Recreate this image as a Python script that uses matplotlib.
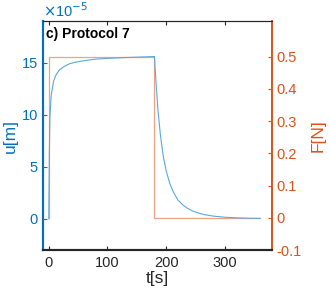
import numpy as np
import matplotlib.pyplot as plt
from matplotlib.ticker import FuncFormatter

plt.rcParams["font.family"] = ["Liberation Sans", "DejaVu Sans"]

# displacement u [m] vs time
t_u = [0, 1, 2, 4, 8, 12, 18, 25, 35, 45, 60, 80, 100, 130, 160, 180,
       181, 183, 186, 190, 195, 200, 206, 212, 220, 228, 235, 245, 255,
       265, 280, 300, 320, 340, 360]
u_vals = [0, 6.5, 9.8, 11.8, 13.2, 13.8, 14.3, 14.6, 14.9, 15.05, 15.2,
          15.35, 15.42, 15.5, 15.56, 15.6,
          14.6, 12.8, 10.4, 8.1, 6.0, 4.6, 3.4, 2.6, 1.8, 1.35, 1.05, 0.75,
          0.55, 0.4, 0.26, 0.15, 0.09, 0.06, 0.04]
u_vals = np.array(u_vals) * 1e-5

# force F [N] vs time
t_f = [0, 0, 180, 180, 360]
f_vals = [0, 0.5, 0.5, 0, 0]

blue = "#0072BD"
orange = "#D95319"
dark = "#262626"

fig = plt.figure(figsize=(3.30, 2.98), dpi=100)
ax = fig.add_axes([0.130, 0.161, 0.694, 0.768])
ax2 = ax.twinx()

ax.plot(t_u, u_vals, color="#5BA8DE", lw=0.8, zorder=3)
ax2.plot(t_f, f_vals, color="#F2A284", lw=0.9)
ax.set_zorder(ax2.get_zorder() + 1)
ax.patch.set_visible(False)

ax.set_xlim(-10, 380)
ax.set_ylim(-3e-5, 19e-5)
ax2.set_ylim(-0.1, 0.61)

ax.set_xticks([0, 100, 200, 300])
ax.set_yticks(np.array([0, 5, 10, 15]) * 1e-5)
ax.yaxis.set_major_formatter(FuncFormatter(lambda v, p: f"{v * 1e5:.0f}"))
ax2.set_yticks([-0.1, 0, 0.1, 0.2, 0.3, 0.4, 0.5])
ax2.set_yticklabels(["-0.1", "0", "0.1", "0.2", "0.3", "0.4", "0.5"])

ax.text(0.0, 1.005, r"$\times$10$^{-5}$", transform=ax.transAxes,
        color=blue, fontsize=10.5, ha="left", va="bottom")

ax.tick_params(axis="x", direction="in", top=True, labelsize=10.5,
               colors=dark, length=3, width=0.8, pad=4)
ax.tick_params(axis="y", direction="in", labelsize=10.5, colors=blue,
               length=3, width=0.8)
ax2.tick_params(axis="y", direction="in", labelsize=10.5, colors=orange,
                length=3, width=0.8)

for a in (ax, ax2):
    a.spines["left"].set_color(blue)
    a.spines["left"].set_linewidth(1.5)
    a.spines["right"].set_color(orange)
    a.spines["right"].set_linewidth(1.2)
    a.spines["top"].set_color(dark)
    a.spines["top"].set_linewidth(0.8)
    a.spines["bottom"].set_color(dark)
    a.spines["bottom"].set_linewidth(1.5)

ax.set_xlabel("t[s]", fontsize=12.5, color=dark, labelpad=1)
ax.set_ylabel("u[m]", fontsize=12.5, color=blue, labelpad=3)
ax2.set_ylabel("F[N]", fontsize=12.5, color=orange, labelpad=6)

ax.text(0.015, 0.975, "c) Protocol 7", transform=ax.transAxes,
        fontsize=10, fontweight="bold", va="top", ha="left")

fig.savefig("out.png", dpi=100)
